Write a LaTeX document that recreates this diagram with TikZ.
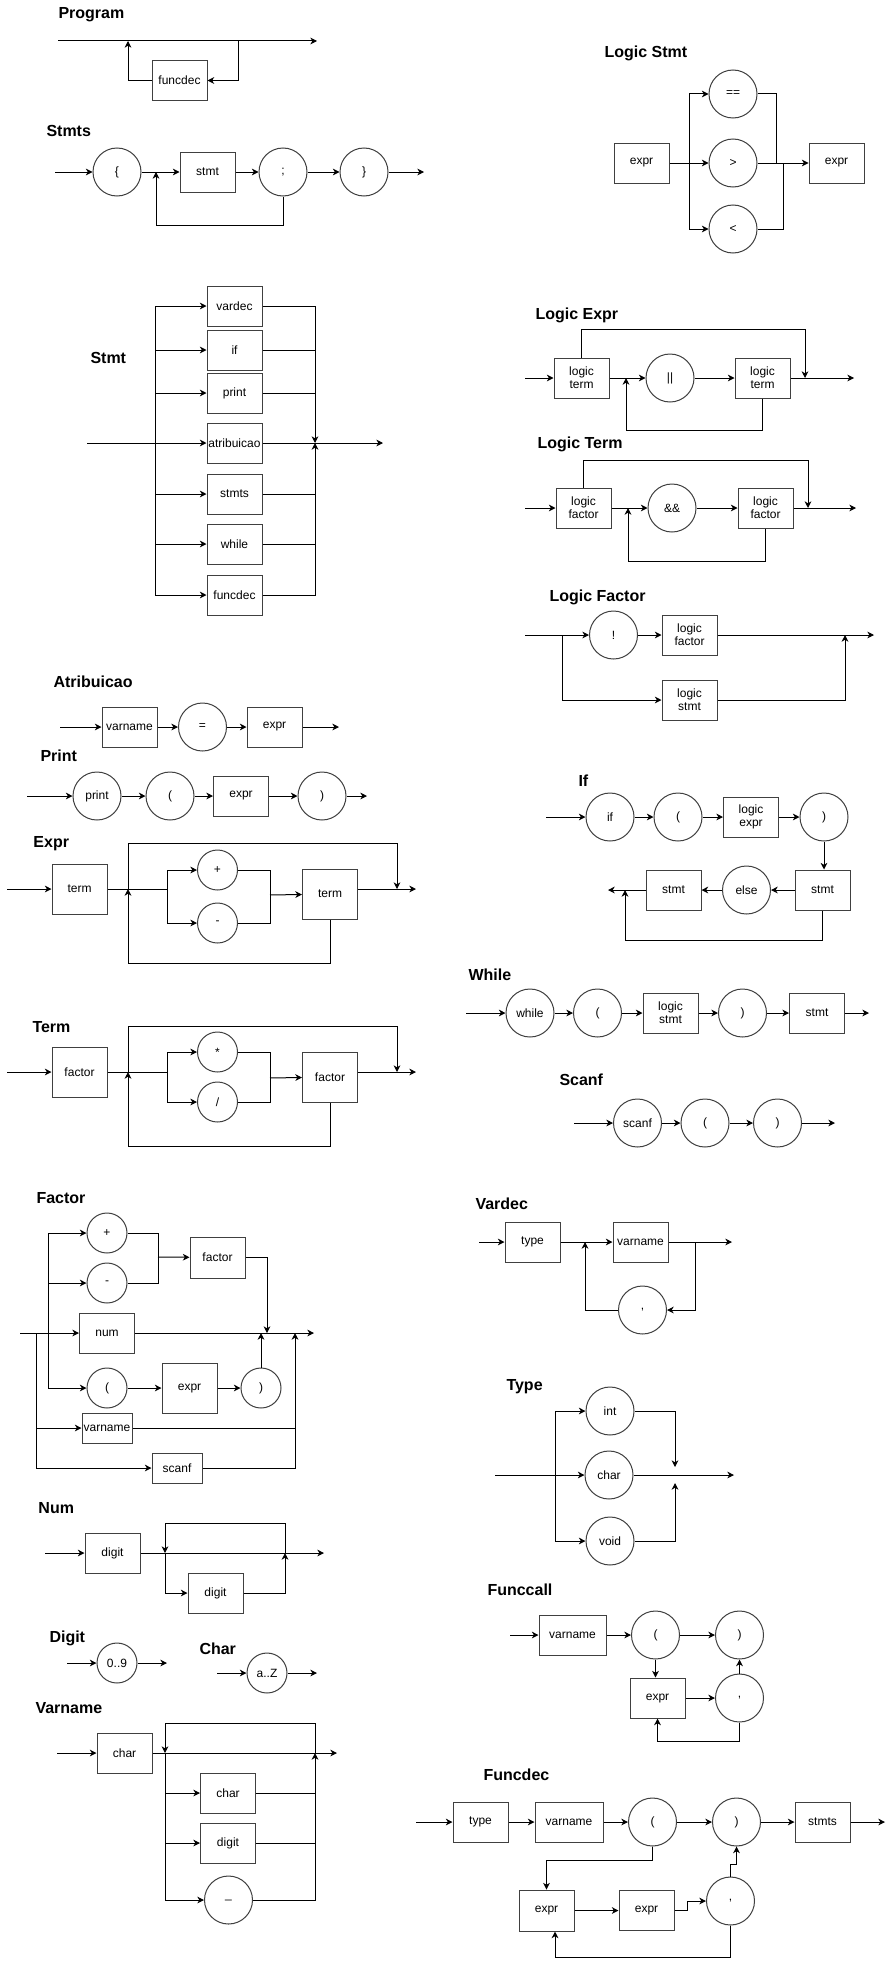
\documentclass[tikz,border=0pt]{standalone}
\usepackage{fontspec}
\setmainfont{Liberation Sans}
\usetikzlibrary{arrows.meta,calc}
\begin{document}
\begin{tikzpicture}[x=0.75pt,y=-0.75pt,
  line width=0.75pt,
  every node/.style={font=\fontsize{9}{10}\selectfont, inner sep=0pt, align=center},
  bx/.style={draw=black!75, rectangle, minimum width=41.25pt, minimum height=30pt},
  cir/.style={draw=black!75, circle, minimum size=36pt},
  scir/.style={draw=black!75, circle, minimum size=30pt},
  ttl/.style={font=\fontsize{12}{14}\selectfont\bfseries, anchor=west},
  arr/.style={-{Stealth[length=5pt,width=5pt,inset=1.5pt]}},
]
\fill[white] (0,0) rectangle (894,1966);
\useasboundingbox (0,0) rectangle (894,1966);

% ---------------- Program
\node[ttl] (tProgram) at (58,15) {Program};
\coordinate (pS) at (58,41);
\coordinate (pE) at (317,41);
\coordinate (pJ1) at (128,41);
\coordinate (pJ2) at (238,41);
\node[bx] (pF) at (179.5,80.5) {funcdec};
\draw[arr] (pS) -- (pE);
\draw[arr] (pJ2) |- (pF.east);
\draw[arr] (pF.west) -| (pJ1);

% ---------------- Stmts
\node[ttl] (tStmts) at (46,131) {Stmts};
\coordinate (sS) at (55,172);
\node[cir] (sLb) at (117,172) {\{};
\node[bx] (sSt) at (207.5,172) {stmt};
\node[cir] (sSc) at (283,172) {;};
\node[cir] (sRb) at (364,172) {\}};
\coordinate (sE) at (424,172);
\coordinate (sJ) at (156,172);
\draw[arr] (sS) -- (sLb);
\draw[arr] (sLb) -- (sSt);
\draw[arr] (sSt) -- (sSc);
\draw[arr] (sSc) -- (sRb);
\draw[arr] (sRb) -- (sE);
\draw[arr] (sSc.south) -- ++(0,29) -| (sJ);

% ---------------- Stmt
\node[ttl] (tStmt) at (90,358) {Stmt};
\node[bx] (stV) at (234.5,306) {vardec};
\node[bx] (stI) at (234.5,350) {if};
\node[bx] (stP) at (234.5,393) {print};
\node[bx] (stA) at (234.5,443) {atribuicao};
\node[bx] (stS) at (234.5,494) {stmts};
\node[bx] (stW) at (234.5,544) {while};
\node[bx] (stF) at (234.5,595) {funcdec};
\coordinate (stIn) at (87,443);
\coordinate (stL) at (155,443);
\coordinate (stR) at (315,443);
\coordinate (stOut) at (383,443);
\draw[arr] (stIn) -- (stA);
\draw (stL |- stV) -- (stL |- stF);
\foreach \n in {stV,stI,stP,stS,stW,stF} \draw[arr] (stL |- \n) -- (\n.west);
\foreach \n in {stI,stP,stS,stW} \draw (\n.east) -- (stR |- \n);
\draw[arr] (stV.east) -| (stR);
\draw[arr] (stF.east) -| (stR);
\draw[arr] (stA.east) -- (stOut);

% ---------------- Atribuicao
\node[ttl] (tAtr) at (53,682) {Atribuicao};
\coordinate (aS) at (60,727);
\node[bx] (aV) at (129.5,727) {varname};
\node[cir] (aEq) at (202.5,727) {=};
\node[bx] (aE) at (274.5,727) {expr};
\coordinate (aO) at (339,727);
\draw[arr] (aS) -- (aV);
\draw[arr] (aV) -- (aEq);
\draw[arr] (aEq) -- (aE);
\draw[arr] (aE) -- (aO);

% ---------------- Print
\node[ttl] (tPrint) at (40,756) {Print};
\coordinate (prS) at (27,796);
\node[cir] (prP) at (97,796) {print};
\node[cir] (prLp) at (170,796) {(};
\node[bx] (prE) at (241,796) {expr};
\node[cir] (prRp) at (322,796) {)};
\coordinate (prO) at (367,796);
\draw[arr] (prS) -- (prP);
\draw[arr] (prP) -- (prLp);
\draw[arr] (prLp) -- (prE);
\draw[arr] (prE) -- (prRp);
\draw[arr] (prRp) -- (prO);

% ---------------- Expr
\node[ttl] (tExpr) at (33,844) {Expr};
\coordinate (eS) at (7,889);
\node[bx, minimum height=37.5pt] (eT1) at (79.5,889) {term};
\coordinate (eJ) at (128,889);
\coordinate (eSp) at (167,889);
\node[scir] (ePl) at (217.5,870) {+};
\node[scir] (eMi) at (217.5,923) {-};
\coordinate (eM) at (270,895);
\node[bx, minimum height=37.5pt] (eT2) at (330,894) {term};
\coordinate (eX) at (397,889);
\coordinate (eO) at (416,889);
\draw[arr] (eS) -- (eT1);
\draw (eT1) -- (eSp);
\draw[arr] (eSp) |- (ePl);
\draw[arr] (eSp) |- (eMi);
\draw (ePl) -| (eM);
\draw (eMi) -| (eM);
\draw[arr] (eM) -- (eT2);
\draw[arr] (eT2.east |- eO) -- (eO);
\draw[arr] (eJ) -- ++(0,-46) -| (eX);
\draw[arr] (eT2.south) -- ++(0,44) -| (eJ);

% ---------------- Term
\node[ttl] (tTerm) at (32,1027) {Term};
\coordinate (tS) at (7,1072);
\node[bx, minimum height=37.5pt] (tF1) at (79.5,1072) {factor};
\coordinate (tJ) at (128,1072);
\coordinate (tSp) at (167,1072);
\node[scir] (tMul) at (217.5,1052) {*};
\node[scir] (tDiv) at (217.5,1102) {/};
\coordinate (tM) at (270,1078);
\node[bx, minimum height=37.5pt] (tF2) at (330,1077) {factor};
\coordinate (tX) at (397,1072);
\coordinate (tO) at (416,1072);
\draw[arr] (tS) -- (tF1);
\draw (tF1) -- (tSp);
\draw[arr] (tSp) |- (tMul);
\draw[arr] (tSp) |- (tDiv);
\draw (tMul) -| (tM);
\draw (tDiv) -| (tM);
\draw[arr] (tM) -- (tF2);
\draw[arr] (tF2.east |- tO) -- (tO);
\draw[arr] (tJ) -- ++(0,-46) -| (tX);
\draw[arr] (tF2.south) -- ++(0,44) -| (tJ);

% ---------------- Factor
\node[ttl] (tFactor) at (36,1198) {Factor};
\coordinate (fS) at (20,1333);
\node[scir] (fPl) at (107,1233) {+};
\node[scir] (fMi) at (107,1283) {-};
\coordinate (fM) at (158,1257);
\node[bx, minimum height=30.75pt] (fFa) at (217.5,1257.5) {factor};
\node[bx] (fNum) at (107,1333) {num};
\node[scir] (fLp) at (107,1388) {(};
\node[bx, minimum height=37.5pt] (fEx) at (189.5,1388) {expr};
\node[scir] (fRp) at (261,1388) {)};
\node[bx, minimum width=37.5pt, minimum height=22.5pt] (fVn) at (107,1428) {varname};
\node[bx, minimum width=37.5pt, minimum height=22.5pt] (fSc) at (177,1468) {scanf};
\coordinate (fL1) at (48,1333);
\coordinate (fL2) at (36,1333);
\coordinate (fR) at (295,1333);
\coordinate (fO) at (314,1333);
\coordinate (fFd) at (267,1333);
\draw[arr] (fS) -- (fNum);
\draw[arr] (fNum) -- (fO);
\draw (fL1 |- fPl) -- (fL1 |- fLp);
\draw[arr] (fL1 |- fPl) -- (fPl);
\draw[arr] (fL1 |- fMi) -- (fMi);
\draw[arr] (fL1 |- fLp) -- (fLp);
\draw (fL2) -- (fL2 |- fSc);
\draw[arr] (fL2 |- fVn) -- (fVn);
\draw[arr] (fL2 |- fSc) -- (fSc);
\draw (fPl) -| (fM);
\draw (fMi) -| (fM);
\draw[arr] (fM) -- (fFa);
\draw[arr] (fFa.east) -| (fFd);
\draw[arr] (fLp) -- (fEx);
\draw[arr] (fEx) -- (fRp);
\draw[arr] (fRp) -- (fRp |- fO);
\draw (fVn.east) -- (fR |- fVn);
\draw[arr] (fSc) -| (fR);

% ---------------- Num
\node[ttl] (tNum) at (38,1508) {Num};
\coordinate (nS) at (45,1553);
\node[bx] (nD1) at (112.5,1553) {digit};
\node[bx] (nD2) at (215.5,1593) {digit};
\coordinate (nL) at (165,1553);
\coordinate (nR) at (285,1553);
\coordinate (nO) at (324,1553);
\draw[arr] (nS) -- (nD1);
\draw[arr] (nD1) -- (nO);
\draw[arr] (nR) -- ++(0,-30) -| (nL);
\draw[arr] (nL) |- (nD2);
\draw[arr] (nD2) -| (nR);

% ---------------- Digit
\node[ttl] (tDigit) at (49,1638) {Digit};
\coordinate (dS) at (67,1663);
\node[scir] (dC) at (117,1663) {0..9};
\coordinate (dO) at (167,1663);
\draw[arr] (dS) -- (dC);
\draw[arr] (dC) -- (dO);

% ---------------- Char
\node[ttl] (tChar) at (199,1649) {Char};
\coordinate (cS) at (217,1673);
\node[scir] (cC) at (267,1673) {a..Z};
\coordinate (cO) at (317,1673);
\draw[arr] (cS) -- (cC);
\draw[arr] (cC) -- (cO);

% ---------------- Varname
\node[ttl] (tVarname) at (35,1708) {Varname};
\coordinate (vS) at (57,1753);
\node[bx] (vC) at (124.5,1753) {char};
\coordinate (vL) at (165,1753);
\coordinate (vR) at (315,1753);
\coordinate (vO) at (337,1753);
\node[bx] (vC2) at (228,1793) {char};
\node[bx] (vD) at (228,1843) {digit};
\node[cir] (vU) at (228.5,1900) {\_};
\draw[arr] (vS) -- (vC);
\draw[arr] (vC) -- (vO);
\draw[arr] (vR) -- ++(0,-30) -| (vL);
\draw (vL) -- (vL |- vU);
\foreach \n in {vC2,vD,vU} \draw[arr] (vL |- \n) -- (\n);
\draw (vC2) -- (vR |- vC2);
\draw (vD) -- (vR |- vD);
\draw[arr] (vU) -| (vR);

% ---------------- Logic Stmt
\node[ttl] (tLS) at (604,53) {Logic Stmt};
\node[bx] (lsE1) at (641.5,163) {expr};
\coordinate (lsSp) at (689,163);
\node[cir] (lsEq) at (733,94) {==};
\node[cir] (lsGt) at (733,163) {>};
\node[cir] (lsLt) at (733,229) {<};
\node[bx] (lsE2) at (836.5,163) {expr};
\coordinate (lsM1) at (776,163);
\coordinate (lsM2) at (783,163);
\draw (lsE1) -- (lsSp);
\draw[arr] (lsSp) |- (lsEq);
\draw[arr] (lsSp) -- (lsGt);
\draw[arr] (lsSp) |- (lsLt);
\draw (lsEq) -| (lsM1);
\draw (lsLt) -| (lsM2);
\draw[arr] (lsGt) -- (lsE2);

% ---------------- Logic Expr
\node[ttl] (tLE) at (535,315) {Logic Expr};
\coordinate (leS) at (525,378);
\node[bx] (leT1) at (581.5,378) {logic\\term};
\coordinate (leJ) at (626,378);
\node[cir] (leOr) at (670,378) {||};
\node[bx] (leT2) at (762.5,378) {logic\\term};
\coordinate (leX) at (805,378);
\coordinate (leO) at (854,378);
\draw[arr] (leS) -- (leT1);
\draw[arr] (leT1) -- (leOr);
\draw[arr] (leOr) -- (leT2);
\draw[arr] (leT2) -- (leO);
\draw[arr] (leT1.north) -- ++(0,-28) -| (leX);
\draw[arr] (leT2.south) -- ++(0,32) -| (leJ);

% ---------------- Logic Term
\node[ttl] (tLT) at (537,444) {Logic Term};
\coordinate (ltS) at (525,508);
\node[bx] (ltF1) at (583.5,508) {logic\\factor};
\coordinate (ltJ) at (628,508);
\node[cir] (ltAnd) at (672,508) {\&\&};
\node[bx] (ltF2) at (765.5,508) {logic\\factor};
\coordinate (ltX) at (808,508);
\coordinate (ltO) at (856,508);
\draw[arr] (ltS) -- (ltF1);
\draw[arr] (ltF1) -- (ltAnd);
\draw[arr] (ltAnd) -- (ltF2);
\draw[arr] (ltF2) -- (ltO);
\draw[arr] (ltF1.north) -- ++(0,-27) -| (ltX);
\draw[arr] (ltF2.south) -- ++(0,33) -| (ltJ);

% ---------------- Logic Factor
\node[ttl] (tLF) at (549,597) {Logic Factor};
\coordinate (lfS) at (525,635);
\coordinate (lfSp) at (562,635);
\node[cir] (lfNot) at (613.5,635) {!};
\node[bx] (lfF) at (689.5,635) {logic\\factor};
\coordinate (lfR) at (845,635);
\coordinate (lfO) at (874,635);
\node[bx] (lfS2) at (689.5,700) {logic\\stmt};
\draw[arr] (lfS) -- (lfNot);
\draw[arr] (lfNot) -- (lfF);
\draw[arr] (lfF) -- (lfO);
\draw[arr] (lfSp) |- (lfS2);
\draw[arr] (lfS2) -| (lfR);

% ---------------- If
\node[ttl] (tIf) at (578,781) {If};
\coordinate (ifS) at (546,817);
\node[cir] (ifIf) at (610,817) {if};
\node[cir] (ifLp) at (678,817) {(};
\node[bx] (ifLe) at (751,817) {logic\\expr};
\node[cir] (ifRp) at (824,817) {)};
\node[bx] (ifSt1) at (822.5,890) {stmt};
\node[cir] (ifEl) at (746.5,890) {else};
\node[bx] (ifSt2) at (673.5,890) {stmt};
\coordinate (ifJ) at (625,890);
\coordinate (ifO) at (608,890);
\draw[arr] (ifS) -- (ifIf);
\draw[arr] (ifIf) -- (ifLp);
\draw[arr] (ifLp) -- (ifLe);
\draw[arr] (ifLe) -- (ifRp);
\draw[arr] (ifRp) -- (ifRp |- ifSt1.north);
\draw[arr] (ifSt1) -- (ifEl);
\draw[arr] (ifEl) -- (ifSt2);
\draw[arr] (ifSt2) -- (ifO);
\draw[arr] (ifSt1.south) -- ++(0,30) -| (ifJ);

% ---------------- While
\node[ttl] (tWhile) at (468,975) {While};
\coordinate (wS) at (466,1013);
\node[cir] (wW) at (530,1013) {while};
\node[cir] (wLp) at (597.5,1013) {(};
\node[bx] (wLs) at (670.5,1013) {logic\\stmt};
\node[cir] (wRp) at (742.5,1013) {)};
\node[bx] (wSt) at (817,1013) {stmt};
\coordinate (wO) at (869,1013);
\draw[arr] (wS) -- (wW);
\draw[arr] (wW) -- (wLp);
\draw[arr] (wLp) -- (wLs);
\draw[arr] (wLs) -- (wRp);
\draw[arr] (wRp) -- (wSt);
\draw[arr] (wSt) -- (wO);

% ---------------- Scanf
\node[ttl] (tScanf) at (559,1080) {Scanf};
\coordinate (scS) at (574,1123);
\node[cir] (scSc) at (637.5,1123) {scanf};
\node[cir] (scLp) at (705,1123) {(};
\node[cir] (scRp) at (777.5,1123) {)};
\coordinate (scO) at (835,1123);
\draw[arr] (scS) -- (scSc);
\draw[arr] (scSc) -- (scLp);
\draw[arr] (scLp) -- (scRp);
\draw[arr] (scRp) -- (scO);

% ---------------- Vardec
\node[ttl] (tVardec) at (475,1204) {Vardec};
\coordinate (vdS) at (479,1242);
\node[bx] (vdT) at (532.5,1242) {type};
\coordinate (vdJ) at (585,1242);
\node[bx] (vdV) at (640.5,1242) {varname};
\coordinate (vdSp) at (695,1242);
\coordinate (vdO) at (732,1242);
\node[cir] (vdC) at (642.5,1310) {,};
\draw[arr] (vdS) -- (vdT);
\draw[arr] (vdT) -- (vdV);
\draw[arr] (vdV) -- (vdO);
\draw[arr] (vdSp) |- (vdC);
\draw[arr] (vdC) -| (vdJ);

% ---------------- Type
\node[ttl] (tType) at (506,1387) {Type};
\coordinate (tyS) at (495,1475);
\coordinate (tySp) at (555,1475);
\node[cir] (tyInt) at (610,1411) {int};
\node[cir] (tyChar) at (609,1475) {char};
\node[cir] (tyVoid) at (610,1541) {void};
\coordinate (tyM) at (675,1475);
\coordinate (tyO) at (734,1475);
\draw[arr] (tyS) -- (tyChar);
\draw (tySp |- tyInt) -- (tySp |- tyVoid);
\draw[arr] (tySp |- tyInt) -- (tyInt);
\draw[arr] (tySp |- tyVoid) -- (tyVoid);
\draw[arr] (tyChar) -- (tyO);
\draw[arr, shorten >=6pt] (tyInt) -| (tyM);
\draw[arr, shorten >=6pt] (tyVoid) -| (tyM);

% ---------------- Funccall
\node[ttl] (tFunccall) at (487,1590) {Funccall};
\coordinate (fcS) at (510,1635);
\node[bx, minimum width=50.25pt] (fcV) at (572.5,1635) {varname};
\node[cir] (fcLp) at (655.5,1635) {(};
\node[cir] (fcRp) at (739.5,1635) {)};
\node[bx] (fcE) at (657.5,1698) {expr};
\node[cir] (fcC) at (739.5,1698) {,};
\draw[arr] (fcS) -- (fcV);
\draw[arr] (fcV) -- (fcLp);
\draw[arr] (fcLp) -- (fcRp);
\draw[arr] (fcLp) -- (fcLp |- fcE.north);
\draw[arr] (fcE) -- (fcC);
\draw[arr] (fcC) -- (fcRp);
\draw[arr] (fcC.south) -- ++(0,19) -| (fcE.south);

% ---------------- Funcdec
\node[ttl] (tFuncdec) at (483,1775) {Funcdec};
\coordinate (fdS) at (416,1822);
\node[bx] (fdT) at (480.5,1822) {type};
\node[bx, minimum width=51pt] (fdV) at (569,1822) {varname};
\node[cir] (fdLp) at (652.5,1822) {(};
\node[cir] (fdRp) at (736.5,1822) {)};
\node[bx] (fdSt) at (822.5,1822) {stmts};
\coordinate (fdO) at (885,1822);
\node[bx, minimum height=30.75pt] (fdE1) at (546.5,1910.5) {expr};
\node[bx] (fdE2) at (646.5,1910.5) {expr};
\node[cir] (fdC) at (730.5,1901) {,};
\draw[arr] (fdS) -- (fdT);
\draw[arr] (fdT) -- (fdV);
\draw[arr] (fdV) -- (fdLp);
\draw[arr] (fdLp) -- (fdRp);
\draw[arr] (fdRp) -- (fdSt);
\draw[arr] (fdSt) -- (fdO);
\draw[arr] (fdLp.south) -- ++(0,14) -| (fdE1.north);
\draw[arr] (fdE1) -- (fdE2);
\draw[arr] (fdE2.east) -- ++(13,0) |- (fdC);
\draw[arr] (fdC.north) -- ++(0,-12) -| (fdRp.south);
\draw[arr] (fdC.south) -- ++(0,32) -| ($(fdE1.south)+(8.5,0)$);

\end{tikzpicture}
\end{document}
